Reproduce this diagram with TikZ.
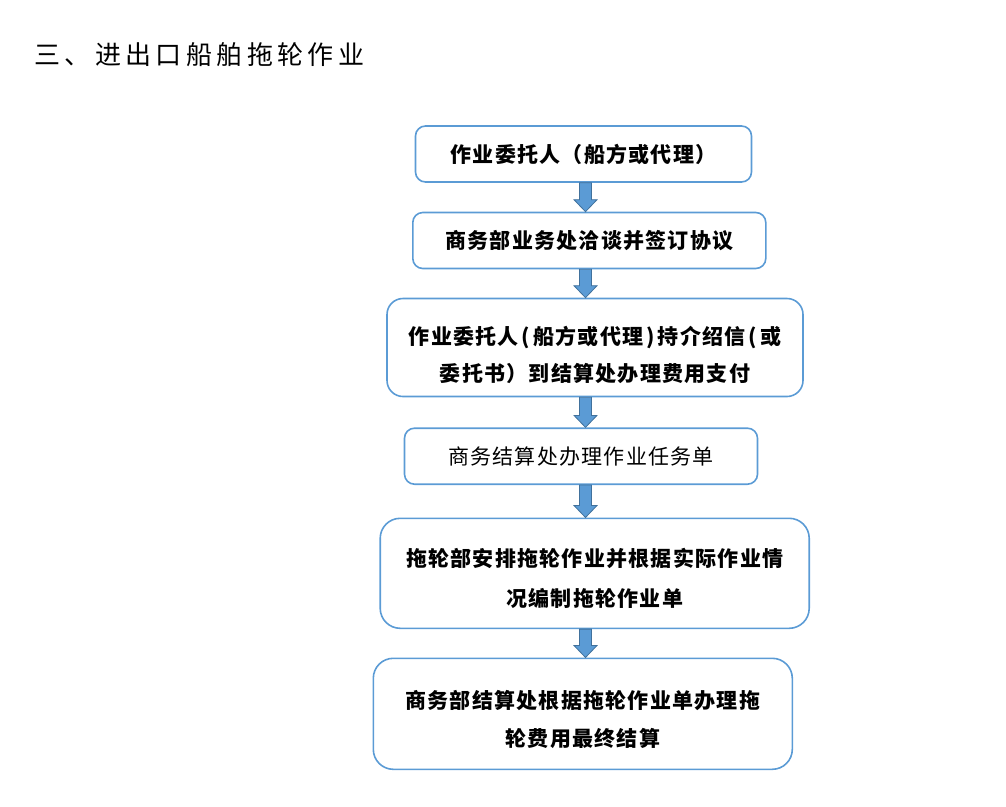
\documentclass[tikz,border=0pt]{standalone}
\usepackage{fontspec}
\usepackage{xcolor}
\usepackage{tikz}
\usetikzlibrary{calc}
\newfontfamily\cjk[LetterSpace=6]{Noto Sans CJK SC}
\newfontfamily\cjktitle[LetterSpace=17]{Noto Sans CJK SC}
\definecolor{boxblue}{HTML}{5B9BD5}
\definecolor{arrowline}{HTML}{41719C}
\newcommand{\hparen}[1]{\kern3pt#1\kern3pt}
\tikzset{
  stage/.style={draw=boxblue, line width=1.6pt, rounded corners=10pt, align=center, inner sep=0pt,
    font=\cjk\bfseries\fontsize{21}{38}\selectfont},
  blockarrow/.style={fill=boxblue, draw=arrowline, line width=0.8pt, line join=miter}
}

\begin{document}
\begin{tikzpicture}[x=1pt, y=-1pt]
\useasboundingbox (0,0) rectangle (1006,806);
\node[anchor=west, inner sep=0pt, font=\cjktitle\fontsize{26}{30}\selectfont] (title) at (34,55) {三、进出口船舶拖轮作业};
\node[stage, minimum width=336pt, minimum height=56pt] (client) at (583.5,154) {作业委托人（船方或代理）};
\node[stage, minimum width=353pt, minimum height=56pt] (contract) at (589.3,240.5) {商务部业务处洽谈并签订协议};
\node[stage, minimum width=416pt, minimum height=98pt, rounded corners=16pt, text height=70.5pt,
  font=\cjk\bfseries\fontsize{21}{37}\selectfont] (payment) at (595,347.5)
  {作业委托人\hparen{(}船方或代理\hparen{)}持介绍信\hparen{(}或\\委托书）到结算处办理费用支付};
\node[stage, minimum width=353pt, minimum height=56pt, font=\cjk\fontsize{21}{38}\selectfont] (taskorder) at (581,456.2) {商务结算处办理作业任务单};
\node[stage, minimum width=429pt, minimum height=110pt, rounded corners=20pt, text height=68.5pt,
  font=\cjk\bfseries\fontsize{21}{40}\selectfont] (tugplan) at (594.7,573.3) {拖轮部安排拖轮作业并根据实际作业情\\况编制拖轮作业单};
\node[stage, minimum width=419pt, minimum height=111pt, rounded corners=20pt, text height=66.5pt] (settlement) at (582.8,713.8) {商务部结算处根据拖轮作业单办理拖\\轮费用最终结算};
\coordinate (ax) at (585.5,0);
\foreach \a/\b in {client/contract, contract/payment, payment/taskorder, taskorder/tugplan, tugplan/settlement}
  \draw[blockarrow] ($(\a.south -| ax)+(-6,0)$) -- ($(\b.north -| ax)+(-6,-12)$) -- ++(-5.5,0) -- (\b.north -| ax) -- ++(11.5,-12) -- ++(-5.5,0) -- ($(\a.south -| ax)+(6,0)$) -- cycle;
\end{tikzpicture}
\end{document}
